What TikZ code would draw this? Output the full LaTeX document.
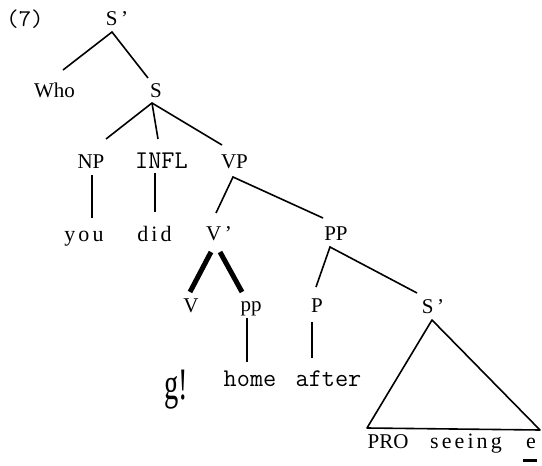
\documentclass[tikz,border=0pt]{standalone}
\usepackage{fontspec}
\setmainfont{Liberation Serif}
\newfontfamily\spacedfont[LetterSpace=14]{Liberation Serif}
\begin{document}
\begin{tikzpicture}[x=1pt,y=-1pt,
  lbl/.style={inner sep=0pt, anchor=base, font=\fontsize{21}{24}\selectfont},
  spc/.style={inner sep=0pt, anchor=base, font=\fontsize{22}{24}\spacedfont},
  mono/.style={inner sep=0pt, anchor=base, font=\fontsize{25.5}{28}\ttfamily},
  edge/.style={line width=1.6pt},
  thinedge/.style={line width=1.2pt},
  thickedge/.style={line width=5pt}]
\useasboundingbox (0,0) rectangle (542,466);
% labels
\node[mono, font=\fontsize{24}{28}\ttfamily] (seven) at (25,26) {(7)};
\node[lbl] (Sp1) at (117,25) {S\,'};
\node[lbl] (Who) at (54.5,97) {Who};
\node[lbl] (S) at (156,97) {S};
\node[lbl] (NP) at (91,168) {NP};
\node[mono] (INFL) at (161.5,168) {INFL};
\node[lbl] (VP) at (234.5,168) {VP};
\node[spc] (you) at (84,241) {you};
\node[spc] (did) at (154.5,241) {did};
\node[lbl] (Vbar) at (219,240) {V\,'};
\node[lbl] (PP) at (336,240) {PP};
\node[lbl] (V) at (191,312) {V};
\node[lbl] (pp) at (251,311) {pp};
\node[lbl] (P) at (317,312) {P};
\node[lbl] (Sp2) at (433,313) {S\,'};
\node[inner sep=0pt, anchor=base, font=\fontsize{30}{32}\selectfont] (g) at (176,399) {\scalebox{0.95}[1.5]{g!}};
\node[mono] (home) at (250,386) {home};
\node[mono] (after) at (328.5,386) {after};
\node[lbl] (PRO) at (388,448) {PRO};
\node[spc] (seeing) at (466,448) {seeing};
\node[spc] (e) at (531,448) {e};
% connectors
\draw[edge] ([shift={(8.5,-27)}]Who.base) -- ([shift={(-5,7)}]Sp1.base) -- ([shift={(-8,-19)}]S.base);
\draw[edge] ([shift={(15,-29)}]NP.base) -- ([shift={(-4,6)}]S.base) -- ([shift={(-12.5,-23)}]VP.base);
\draw[edge] ([shift={(-4,6)}]S.base) -- ([shift={(-3.5,-29)}]INFL.base);
\draw[edge] ([shift={(1,7)}]NP.base) -- ([shift={(8,-23)}]you.base);
\draw[thinedge] ([shift={(-6.5,5)}]INFL.base) -- ([shift={(0.5,-29)}]did.base);
\draw[edge] ([shift={(-3,-27)}]Vbar.base) -- ([shift={(-1.5,9)}]VP.base) -- ([shift={(-13,-22)}]PP.base);
\draw[thickedge] ([shift={(-8,12)}]Vbar.base) -- ([shift={(-1,-20)}]V.base);
\draw[thickedge] ([shift={(1,12)}]Vbar.base) -- ([shift={(-9,-19)}]pp.base);
\draw[edge] ([shift={(-1,-25)}]P.base) -- ([shift={(-6,7)}]PP.base) -- ([shift={(-16,-20)}]Sp2.base);
\draw[thinedge] ([shift={(-4,7)}]pp.base) -- ([shift={(-3,-24)}]home.base);
\draw[edge] ([shift={(-5,10)}]P.base) -- ([shift={(-16.5,-28)}]after.base);
\draw[edge, line join=round] ([shift={(-1,7)}]Sp2.base) -- ([shift={(-21,-20)}]PRO.base) -- ([shift={(9,-18)}]e.base) -- cycle;
\draw[line width=3pt] ([shift={(-8,12)}]e.base) -- ([shift={(6,12)}]e.base);
\end{tikzpicture}
\end{document}
